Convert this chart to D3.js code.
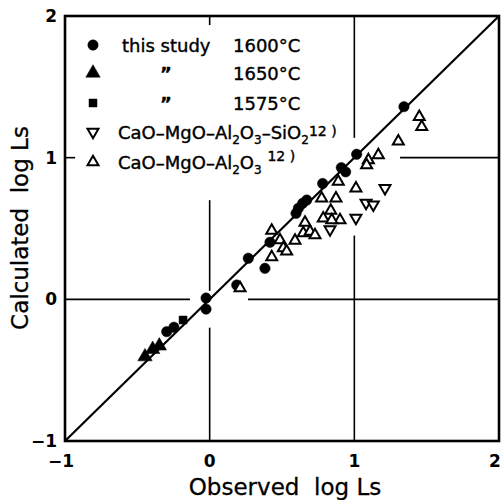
<!DOCTYPE html>
<html>
<head>
<meta charset="utf-8">
<script src="https://cdn.jsdelivr.net/npm/d3@7"></script>
<style>
  html, body { margin: 0; padding: 0; background: #fff; }
  svg { display: block; font-family: "DejaVu Sans", sans-serif; }
</style>
</head>
<body>
<div id="chart"></div>
<script>
// this study, 1600 C  [observed, calculated]
const study1600 = [
  [1.343, 1.360], [1.016, 1.024], [0.91, 0.93], [0.94, 0.90],
  [0.781, 0.818], [0.671, 0.701], [0.643, 0.678], [0.613, 0.643],
  [0.597, 0.607], [0.417, 0.403], [0.267, 0.290], [0.382, 0.219],
  [0.187, 0.101], [-0.025, 0.009], [-0.025, -0.069], [-0.297, -0.228],
  [-0.247, -0.197]
];
// this study, 1650 C
const study1650 = [[-0.447, -0.405], [-0.394, -0.353], [-0.348, -0.329]];
// this study, 1575 C
const study1575 = [[-0.184, -0.146]];
// CaO-MgO-Al2O3-SiO2 (ref. 12)
const cmas = [
  [1.212, 0.784], [1.081, 0.680], [1.131, 0.668], [1.011, 0.574], [0.832, 0.494]
];
// CaO-MgO-Al2O3 (ref. 12)
const cma = [
  [1.449, 1.289], [1.466, 1.218], [1.304, 1.115], [1.166, 1.019], [1.097, 0.983],
  [1.085, 0.948], [0.889, 0.831], [1.011, 0.784], [0.774, 0.713], [0.873, 0.713],
  [0.837, 0.626], [0.785, 0.572], [0.901, 0.560], [0.844, 0.560], [0.659, 0.541],
  [0.429, 0.485], [0.647, 0.468], [0.694, 0.479], [0.728, 0.454], [0.486, 0.419],
  [0.590, 0.414], [0.509, 0.362], [0.532, 0.338], [0.429, 0.299], [0.210, 0.080]
];

const tickValues = [-1, 0, 1, 2];
const xTitle = 'Observed\u00A0\u00A0log Ls';
const yTitle = 'Calculated\u00A0\u00A0log Ls';

// broken grid lines as in the original figure (data units)
const vGrid = [[0, 2, 1.936], [0, 0.70, 0.06], [0, -0.20, -1], [1, 2, 1.14], [1, 0.45, -1]];
const hGrid = [[1, -1, -0.93], [1, 1.316, 2], [0, -1, -0.136], [0, 0.265, 2]];

const W = 502, H = 500;
const x = d3.scaleLinear().domain([-1, 2]).range([65, 499]);
const y = d3.scaleLinear().domain([-1, 2]).range([441, 16]);

const svg = d3.select('#chart').append('svg')
  .attr('width', W).attr('height', H);

// grid segments
svg.append('g').selectAll('line').data(vGrid).join('line')
  .attr('x1', d => x(d[0])).attr('x2', d => x(d[0]))
  .attr('y1', d => y(d[1])).attr('y2', d => y(d[2]))
  .attr('stroke', '#000').attr('stroke-width', 1.6);
svg.append('g').selectAll('line').data(hGrid).join('line')
  .attr('y1', d => y(d[0])).attr('y2', d => y(d[0]))
  .attr('x1', d => x(d[1])).attr('x2', d => x(d[2]))
  .attr('stroke', '#000').attr('stroke-width', 1.6);

// 1:1 line
svg.append('line')
  .attr('x1', x(-1)).attr('y1', y(-1)).attr('x2', x(2)).attr('y2', y(2))
  .attr('stroke', '#000').attr('stroke-width', 2.2);

// frame
svg.append('rect')
  .attr('x', x(-1)).attr('y', y(2))
  .attr('width', x(2) - x(-1)).attr('height', y(-1) - y(2))
  .attr('fill', 'none').attr('stroke', '#000').attr('stroke-width', 2.6);

const fmt = d => d < 0 ? '\u2212' + Math.abs(d) : d;

// tick labels
svg.append('g').selectAll('text').data(tickValues).join('text')
  .attr('x', 57).attr('y', d => y(d) + 6)
  .attr('text-anchor', 'end')
  .attr('font-size', 17).attr('font-weight', 'bold')
  .text(fmt);
svg.append('g').selectAll('text').data(tickValues).join('text')
  .attr('x', d => Math.min(x(d) - (d < 0 ? 4 : 0), 495)).attr('y', 467)
  .attr('text-anchor', 'middle')
  .attr('font-size', 17).attr('font-weight', 'bold')
  .text(fmt);

// axis titles
svg.append('text')
  .attr('x', 285).attr('y', 495).attr('text-anchor', 'middle')
  .attr('font-size', 23).attr('stroke', '#000').attr('stroke-width', 0.3)
  .text(xTitle);
svg.append('text')
  .attr('transform', 'translate(28,228) rotate(-90)')
  .attr('text-anchor', 'middle')
  .attr('font-size', 23).attr('stroke', '#000').attr('stroke-width', 0.3)
  .text(yTitle);

// markers
const sym = (type, size) => d3.symbol().type(type).size(size)();
const series = [
  { data: study1600, d: sym(d3.symbolCircle, 85), fill: '#000', rot: 0 },
  { data: study1650, d: sym(d3.symbolTriangle, 90), fill: '#000', rot: 0 },
  { data: study1575, d: sym(d3.symbolSquare, 64), fill: '#000', rot: 0 },
  { data: cmas, d: sym(d3.symbolTriangle, 52), fill: '#fff', rot: 180 },
  { data: cma, d: sym(d3.symbolTriangle, 52), fill: '#fff', rot: 0 }
];
series.forEach(s => {
  svg.append('g').selectAll('path').data(s.data).join('path')
    .attr('d', s.d)
    .attr('transform', p => `translate(${x(p[0])},${y(p[1])}) rotate(${s.rot})`)
    .attr('fill', s.fill)
    .attr('stroke', '#000')
    .attr('stroke-width', s.fill === '#fff' ? 2 : 0.5);
});

// legend
const leg = svg.append('g');
const rowY = [45, 73, 103, 132, 162];
series.forEach((s, i) => {
  leg.append('path').attr('d', s.d)
    .attr('transform', `translate(93,${rowY[i]}) rotate(${s.rot})`)
    .attr('fill', s.fill).attr('stroke', '#000')
    .attr('stroke-width', s.fill === '#fff' ? 2 : 0.5);
});
const ltxt = (xx, row) => leg.append('text').attr('x', xx).attr('y', rowY[row] + 7)
  .attr('font-size', 18).attr('stroke', '#000').attr('stroke-width', 0.4);
ltxt(122, 0).text('this study');
ltxt(233, 0).text('1600°C');
ltxt(160, 1).attr('font-weight', 'bold').text('\u201D');
ltxt(233, 1).text('1650°C');
ltxt(160, 2).attr('font-weight', 'bold').text('\u201D');
ltxt(233, 2).text('1575°C');

const chem = (row, parts) => {
  const t = ltxt(118, row);
  parts.forEach(p => {
    const ts = t.append('tspan').text(p[0]);
    if (p[1] === 'sub') ts.attr('font-size', 12).attr('dy', 5);
    if (p[1] === 'sup') ts.attr('font-size', 14).attr('dy', -8);
    if (p[1] === 'back') ts.attr('dy', -5);
  });
};
chem(3, [['CaO\u2013MgO\u2013Al'], ['2', 'sub'], ['O', 'back'], ['3', 'sub'], ['\u2013SiO', 'back'], ['2', 'sub'], ['12 )', 'sup']]);
chem(4, [['CaO\u2013MgO\u2013Al'], ['2', 'sub'], ['O', 'back'], ['3', 'sub'], ['\u00A0', 'back'], ['12 )', 'sup']]);
</script>
</body>
</html>
